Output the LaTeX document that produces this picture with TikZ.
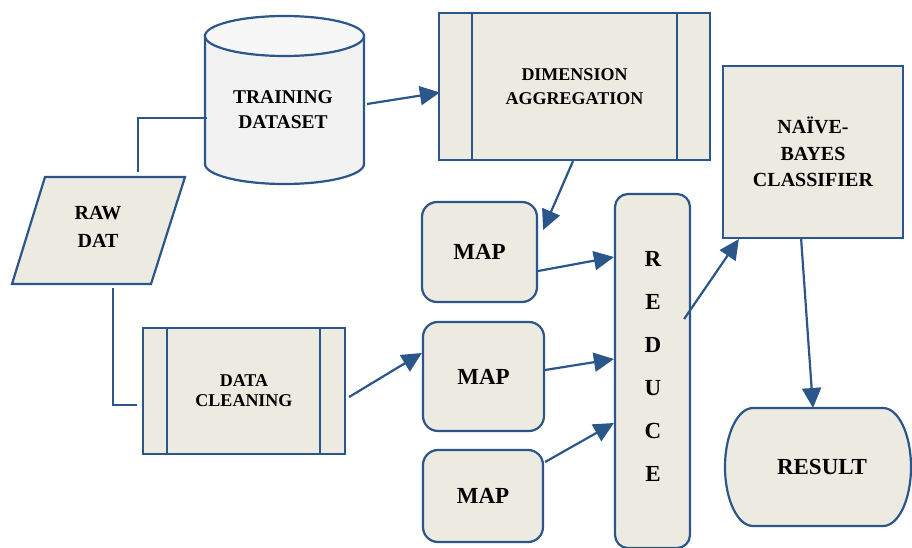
\documentclass[tikz,border=0pt]{standalone}
\usepackage{fontspec}
\setmainfont{Liberation Serif}
\newfontfamily\tnr{Liberation Serif}
\usetikzlibrary{arrows.meta,calc}
\definecolor{lc}{HTML}{2B5689}
\definecolor{bx}{HTML}{EDEBE1}
\definecolor{cylbody}{HTML}{F2F2F2}
\definecolor{cyltop}{HTML}{F7F7F7}
\begin{document}
\begin{tikzpicture}[x=1pt,y=-1pt,
  ln/.style={draw=lc,line width=2.2pt},
  arr/.style={draw=lc,line width=2.2pt,-{Triangle[length=20pt,width=19pt]}},
  bxs/.style={ln,fill=bx,inner sep=0pt,align=center},
  lbl/.style={align=center,inner sep=0pt}]
\useasboundingbox (0,0) rectangle (912,548);

% Training dataset cylinder
\draw[ln,fill=cylbody] (205,36) -- (205,164) arc[start angle=180,end angle=0,x radius=79.5,y radius=20] -- (364,36) -- cycle;
\draw[ln,fill=cyltop] (284.5,36) ellipse[x radius=79.5,y radius=20];
\node[lbl,font=\tnr\bfseries\fontsize{19.5}{25}\selectfont] (ts) at (283,110) {TRAINING\\DATASET};

% Raw data parallelogram
\draw[ln,fill=bx] (45,177) -- (185,177) -- (151,284) -- (12,284) -- cycle;
\node[lbl,font=\tnr\bfseries\fontsize{20}{28}\selectfont] (rd) at (98,227) {RAW\\DAT};

% Dimension aggregation
\node[bxs,minimum width=271pt,minimum height=147pt,font=\tnr\bfseries\fontsize{18}{24}\selectfont] (dim) at (574.5,86.5) {DIMENSION\\AGGREGATION};
\draw[ln] ([xshift=34pt]dim.north west) -- ([xshift=34pt]dim.south west);
\draw[ln] ([xshift=-34pt]dim.north east) -- ([xshift=-34pt]dim.south east);

% Data cleaning
\node[bxs,minimum width=202pt,minimum height=126pt,font=\tnr\bfseries\fontsize{18}{20}\selectfont] (dc) at (244,391) {DATA\\CLEANING};
\draw[ln] ([xshift=25pt]dc.north west) -- ([xshift=25pt]dc.south west);
\draw[ln] ([xshift=-26pt]dc.north east) -- ([xshift=-26pt]dc.south east);

% Maps
\node[bxs,rounded corners=15pt,minimum width=115pt,minimum height=100pt,font=\tnr\bfseries\fontsize{23}{28}\selectfont] (map1) at (479.5,252) {MAP};
\node[bxs,rounded corners=15pt,minimum width=121pt,minimum height=109pt,font=\tnr\bfseries\fontsize{23}{28}\selectfont] (map2) at (483.5,376.5) {MAP};
\node[bxs,rounded corners=15pt,minimum width=120pt,minimum height=92pt,font=\tnr\bfseries\fontsize{23}{28}\selectfont] (map3) at (483,496) {MAP};

% Reduce
\node[bxs,rounded corners=13pt,minimum width=75pt,minimum height=354pt] (reduce) at (652.5,371) {};
\node[lbl,font=\tnr\bfseries\fontsize{23}{43}\selectfont] (redtxt) at (653,366.5) {R\\E\\D\\U\\C\\E};

% Naive Bayes
\node[bxs,minimum width=180pt,minimum height=172pt,font=\tnr\bfseries\fontsize{20}{26.5}\selectfont] (nb) at (813,152) {NAÏVE-\\BAYES\\CLASSIFIER};

% Result
\draw[ln,fill=bx] (753,408) -- (883,408) arc[start angle=-90,end angle=90,x radius=28,y radius=59] -- (753,526) arc[start angle=90,end angle=270,x radius=28,y radius=59] -- cycle;
\node[lbl,font=\tnr\bfseries\fontsize{23}{28}\selectfont] (res) at (822,467) {RESULT};

% Connectors
\draw[ln] ($(rd)+(40,-55)$) |- ($(ts)+(-76,8)$);
\draw[ln] ($(rd)+(15,61)$) |- ($(dc.west)+(-5,14)$);
\draw[arr] ($(ts)+(84,-6)$) -- ($(dim.west)+(2,6)$);
\draw[arr] ($(dim.south)+(-1.5,0)$) -- ($(map1.east)+(5,-22)$);
\draw[arr] ($(dc.east)+(3,6)$) -- ($(map2.west)+(0,-23.5)$);
\draw[arr] ($(map1.east)+(0,19)$) -- ($(reduce.west)+(0,-114)$);
\draw[arr] ($(map2.east)+(0,-6.5)$) -- ($(reduce.west)+(0,-12)$);
\draw[arr] ($(map3.east)+(1,-34)$) -- ($(reduce.west)+(0,52)$);
\draw[arr] ($(reduce.east)+(-7,-52)$) -- ($(nb.south west)+(17,0)$);
\draw[arr] ($(nb.south)+(-12,-2)$) -- ($(res)+(-9,-59)$);
\end{tikzpicture}
\end{document}
